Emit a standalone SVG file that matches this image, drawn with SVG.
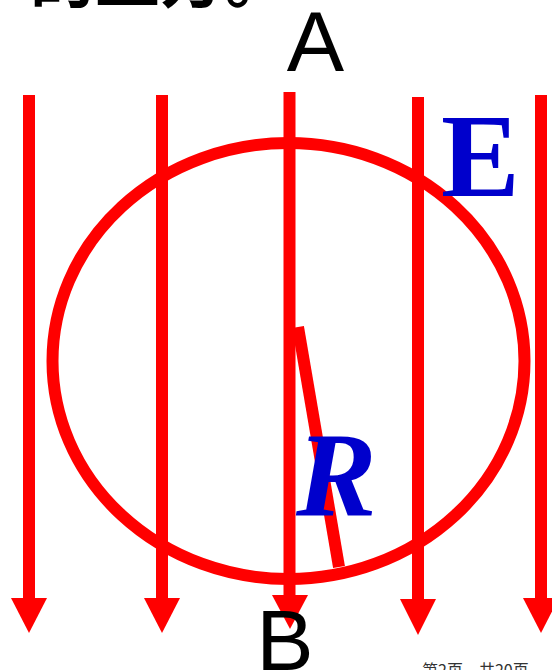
<svg xmlns="http://www.w3.org/2000/svg" width="552" height="670" viewBox="0 0 552 670">
<style>
.fl{stroke:#FF0000;stroke-width:12;fill:none}
.ah{fill:#FF0000}
.lbl{font-family:"Liberation Sans",Arial,sans-serif;font-size:86px;fill:#000}
.blue{font-family:"Liberation Serif","Times New Roman",serif;font-weight:bold;fill:#0000CC}
.cap{font-family:"Noto Sans CJK SC",sans-serif;font-weight:bold;font-size:65px;fill:#000}
.foot{font-family:"Noto Sans CJK SC",sans-serif;font-size:16px;fill:#333}
</style>
<rect width="552" height="670" fill="#fff"/>
<text class="cap" x="30" y="2">的上方。</text>
<g id="field-lines">
  <line class="fl" x1="29" y1="95" x2="29" y2="600"/>
  <polygon class="ah" points="11,598 47,598 29,633"/>
  <line class="fl" x1="162" y1="95" x2="162" y2="600"/>
  <polygon class="ah" points="144,598 180,598 162,633"/>
  <line class="fl" x1="289.5" y1="92" x2="289.5" y2="597"/>
  <polygon class="ah" points="272,595 308,595 290,629"/>
  <line class="fl" x1="418" y1="97" x2="418" y2="601"/>
  <polygon class="ah" points="400,599 436,599 418,635"/>
  <line class="fl" x1="541" y1="95" x2="541" y2="600"/>
  <polygon class="ah" points="523,598 559,598 541,633"/>
</g>
<g id="circle">
  <ellipse class="fl" cx="288.5" cy="361" rx="236" ry="218" stroke-width="11"/>
</g>
<g id="radius">
  <line class="fl" x1="298" y1="327" x2="339" y2="567" stroke-width="11"/>
</g>
<g id="labels">
  <text class="lbl" x="315.5" y="71" text-anchor="middle">A</text>
  <text class="lbl" x="285" y="670" text-anchor="middle">B</text>
  <text class="blue" x="441" y="196" font-size="118">E</text>
  <text class="blue" x="296" y="516" font-size="121" font-style="italic">R</text>
</g>
<text class="foot" x="422" y="676">第2页，共20页</text>
</svg>
